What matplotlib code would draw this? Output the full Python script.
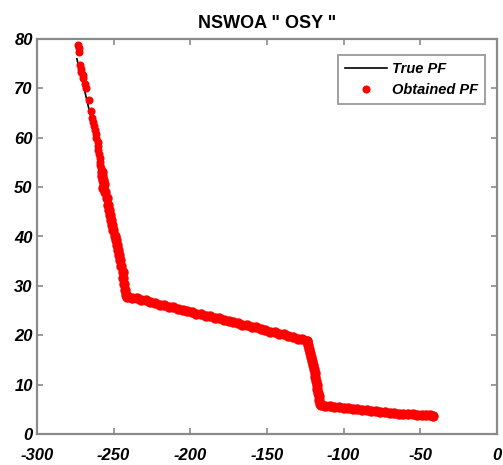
import matplotlib
matplotlib.use("Agg")
import matplotlib.pyplot as plt

OUTFILE = "out.png"

# true Pareto front of OSY
TRUE_F1 = [-274.0, -270.25, -267.0, -264.25, -262.0, -260.25, -259.0, -258.25, -258.0,
           -254.25, -251.0, -248.25, -246.0, -244.25, -243.0, -242.25, -242.0,
           -173.6, -123.46,
           -122.25, -120.0, -118.25, -117.0, -116.25, -116.0,
           -92.6, -72.5, -55.6, -42.0]
TRUE_F2 = [76.0, 71.25, 67.0, 63.25, 60.0, 57.25, 55.0, 53.25, 52.0,
           47.25, 43.0, 39.25, 36.0, 33.25, 31.0, 29.25, 28.0,
           22.9, 18.93,
           17.25, 14.0, 11.25, 9.0, 7.25, 6.0,
           5.125, 4.5, 4.125, 4.0]

# obtained front, upper steep part (sparse dots)
OBT_F1_TOP = [-273.1, -272.8, -272.6, -272.0, -271.5, -271.0, -270.3, -270.0, -269.0, -268.2,
              -266.1, -265.0, -264.1, -263.5, -262.8, -262.2, -261.5, -261.2, -260.5, -260.2,
              -259.9, -259.6, -259.2, -258.9, -258.6, -258.3]
OBT_F2_TOP = [78.8, 78.2, 77.4, 74.7, 73.9, 73.3, 72.7, 72.1, 70.9, 70.1,
              67.7, 65.4, 64.0, 63.2, 62.4, 61.6, 60.8, 60.0, 59.2, 58.3,
              57.5, 56.7, 55.9, 55.1, 54.5, 53.9]

# obtained front, lower steep part
OBT_F1_STEEP = [-257.9, -257.6, -257.0, -256.3, -256.8, -255.7, -254.5, -253.7, -253.0, -252.4,
                -251.7, -251.1, -250.4, -249.1, -248.5, -247.8, -247.2, -246.5, -245.9, -244.9,
                -244.2, -243.6, -243.3, -242.6, -242.0, -241.5]
OBT_F2_STEEP = [53.1, 52.3, 51.4, 50.6, 49.8, 49.0, 47.8, 46.4, 45.4, 44.4,
                43.3, 42.3, 41.3, 40.1, 39.3, 38.3, 37.3, 36.3, 35.2, 34.0,
                32.8, 31.6, 30.4, 29.2, 28.2, 27.7]

# obtained front, long middle slope
OBT_F1_MID = [-241, -238, -235, -232, -229, -226, -223, -220, -217, -214,
              -211, -208, -205, -202, -199, -196, -193, -190, -187, -184,
              -181, -178, -175, -172, -169, -166, -163, -160, -157, -154,
              -151, -148, -145, -142, -139, -136, -133, -130, -127, -124]
OBT_F2_MID = [28.0, 27.6, 27.5, 27.1, 27.1, 26.7, 26.6, 26.2, 26.2, 25.8,
              25.7, 25.3, 25.2, 24.9, 24.8, 24.4, 24.3, 23.9, 23.9, 23.5,
              23.4, 23.0, 22.9, 22.6, 22.5, 22.1, 22.0, 21.6, 21.6, 21.2,
              21.1, 20.7, 20.6, 20.3, 20.2, 19.8, 19.7, 19.3, 19.3, 18.9]

# obtained front, second drop
OBT_F1_DROP = [-123.8, -123.2, -122.6, -122.0, -121.4, -120.8, -120.2, -119.6, -119.0,
               -118.5, -118.0, -117.6, -117.2, -116.8, -116.4, -116.0, -115.6]
OBT_F2_DROP = [18.8, 18.0, 17.2, 16.4, 15.6, 14.8, 14.0, 13.2, 12.4,
               11.6, 10.8, 10.0, 9.2, 8.4, 7.6, 6.8, 6.0]

# obtained front, flat tail
OBT_F1_TAIL = [-115, -112, -109, -106, -103, -100, -97, -94, -91, -88,
               -85, -82, -79, -76, -73, -70, -67, -64, -61, -58,
               -55, -52, -49, -46, -44, -41.5]
OBT_F2_TAIL = [5.9, 5.65, 5.6, 5.4, 5.4, 5.2, 5.2, 5.0, 5.0, 4.8,
               4.8, 4.65, 4.65, 4.45, 4.45, 4.25, 4.3, 4.1, 4.15, 4.0,
               4.0, 3.85, 3.9, 3.75, 3.8, 3.7]

X_TICKS = [-300, -250, -200, -150, -100, -50, 0]
Y_TICKS = [0, 10, 20, 30, 40, 50, 60, 70, 80]

FONT = ["Liberation Sans Narrow", "Liberation Sans", "DejaVu Sans"]
GREY = "#8a8a8a"

plt.rcParams["axes.unicode_minus"] = False


def Main():
    band_f1 = OBT_F1_STEEP + OBT_F1_MID + OBT_F1_DROP + OBT_F1_TAIL
    band_f2 = OBT_F2_STEEP + OBT_F2_MID + OBT_F2_DROP + OBT_F2_TAIL
    PlotFront(band_f1, band_f2)


def PlotFront(band_f1, band_f2):
    fig = plt.figure(figsize=(5.03, 4.65), dpi=100)
    ax = fig.add_axes([37 / 503, 31 / 465, 460 / 503, 395 / 465])

    ax.plot(TRUE_F1, TRUE_F2, color="black", linewidth=1.2, label="True PF")
    ax.plot(OBT_F1_TOP, OBT_F2_TOP, linestyle="none", marker="o", markersize=5.8,
            color="red", markeredgewidth=0, label="Obtained PF")
    ax.plot(band_f1, band_f2, linestyle="none", marker="o", markersize=7.5,
            color="red", markeredgewidth=0)

    ax.set_xlim(-300, 0)
    ax.set_ylim(0, 80)
    ax.set_xticks(X_TICKS)
    ax.set_yticks(Y_TICKS)

    for side in ax.spines.values():
        side.set_color(GREY)
        side.set_linewidth(1.6)
    ax.tick_params(direction="in", length=4, width=1.2, color=GREY,
                   top=True, right=True, labelsize=12)
    ax.tick_params(axis="x", pad=10)
    ax.tick_params(axis="y", pad=3)
    for lab in ax.get_xticklabels() + ax.get_yticklabels():
        lab.set_family(FONT)
        lab.set_fontweight("bold")
        lab.set_fontstyle("italic")

    ax.set_title('NSWOA " OSY "', family=FONT, fontweight="bold", fontsize=13, pad=8)

    leg = ax.legend(loc="upper right", bbox_to_anchor=(0.974, 0.96), borderaxespad=0,
                    fancybox=False, handlelength=2.9, handletextpad=0.3,
                    borderpad=0.5, labelspacing=0.45, markerscale=1.0,
                    prop={"family": FONT, "weight": "bold", "style": "italic", "size": 10.5})
    leg.get_frame().set_edgecolor(GREY)
    leg.get_frame().set_linewidth(1.4)

    fig.savefig(OUTFILE, dpi=100)
    plt.close(fig)


if __name__ == "__main__":
    Main()
